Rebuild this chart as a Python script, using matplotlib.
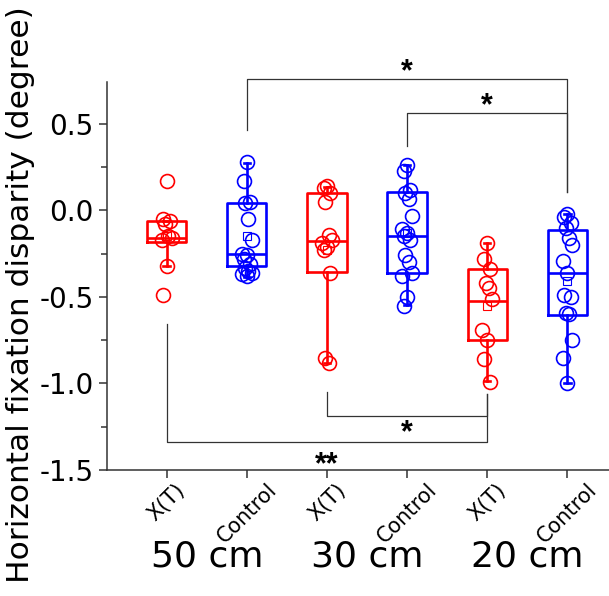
import numpy as np
import matplotlib
matplotlib.use("Agg")
import matplotlib.pyplot as plt
import matplotlib.transforms as mtransforms
from matplotlib.ticker import MultipleLocator

plt.rcParams['font.family'] = ['DejaVu Sans']

# ---- data ----
tick_labels = ["X(T)", "Control", "X(T)", "Control", "X(T)", "Control"]
group_labels = ["50 cm", "30 cm", "20 cm"]
box_colors = ["#ff0000", "#0000ff", "#ff0000", "#0000ff", "#ff0000", "#0000ff"]

pts_xt50 = [0.17, -0.05, -0.06, -0.08, -0.15, -0.16, -0.17, -0.32, -0.49]
pts_ct50 = [0.28, 0.17, 0.05, 0.04, -0.05, -0.17, -0.25, -0.26, -0.28, -0.31,
            -0.33, -0.35, -0.36, -0.37, -0.38]
pts_xt30 = [0.14, 0.13, 0.10, 0.05, -0.14, -0.17, -0.19, -0.21, -0.23, -0.36,
            -0.85, -0.88]
pts_ct30 = [0.26, 0.23, 0.12, 0.10, 0.065, -0.03, -0.11, -0.13, -0.15, -0.17,
            -0.26, -0.30, -0.36, -0.38, -0.50, -0.55]
pts_xt20 = [-0.19, -0.28, -0.34, -0.42, -0.45, -0.51, -0.69, -0.75, -0.86, -0.99]
pts_ct20 = [-0.02, -0.04, -0.07, -0.10, -0.16, -0.20, -0.29, -0.36, -0.49, -0.50,
            -0.59, -0.60, -0.75, -0.85, -1.00]
points = [pts_xt50, pts_ct50, pts_xt30, pts_ct30, pts_xt20, pts_ct20]

whis_hi = [-0.06, 0.276, 0.138, 0.263, -0.188, -0.02]
q3 = [-0.06, 0.043, 0.103, 0.109, -0.34, -0.113]
med = [-0.16, -0.254, -0.175, -0.147, -0.523, -0.363]
q1 = [-0.18, -0.32, -0.357, -0.361, -0.749, -0.604]
whis_lo = [-0.32, -0.383, -0.88, -0.546, -0.984, -0.995]
means = [-0.15, -0.147, -0.228, -0.13, -0.552, -0.41]

# significance brackets: (x1, x2, leg1 bottom, leg2 bottom, bar y, label, label y)
brackets = [
    (2, 6, 0.465, 0.107, 0.760, "*", 0.80),
    (4, 6, 0.375, 0.107, 0.564, "*", 0.60),
    (3, 5, -1.049, -1.06, -1.19, "*", -1.285),
    (1, 5, -0.656, -1.06, -1.336, "**", -1.475),
]

fig = plt.figure(figsize=(6.09, 5.96), dpi=100)
ax = fig.add_axes([0.1757, 0.2114, 0.8243, 0.651])

pos = np.arange(1, 7)
stats = []
for i in range(6):
    stats.append(dict(whislo=whis_lo[i], q1=q1[i], med=med[i], q3=q3[i],
                      whishi=whis_hi[i], mean=means[i], fliers=[]))

for i in range(6):
    c = box_colors[i]
    ax.bxp([stats[i]], positions=[pos[i]], widths=0.49, showmeans=True,
           showfliers=False, capwidths=0.08,
           boxprops=dict(color=c, linewidth=1.9),
           medianprops=dict(color=c, linewidth=1.9),
           whiskerprops=dict(color=c, linewidth=1.9),
           capprops=dict(color=c, linewidth=1.9),
           meanprops=dict(marker='s', markerfacecolor='none', markeredgecolor=c,
                          markersize=6, markeredgewidth=0.8))
    # deterministic small spread so overlapping circles stay visible
    offs = [0.0, -0.04, 0.04, -0.02, 0.02, 0.06, -0.06]
    xs = [pos[i] + offs[k % len(offs)] for k in range(len(points[i]))]
    ax.plot(xs, points[i], 'o', mfc='none', mec=c, ms=10, mew=1.2, zorder=4)

for (a, b, la, lb, ybar, lab, ylab) in brackets:
    ax.plot([a, a, b, b], [la, ybar, ybar, lb], color='#333333', lw=0.9,
            clip_on=False, zorder=1)
    ax.text((a + b) / 2, ylab, lab, ha='center', va='center', fontsize=22,
            fontweight='bold', family='Liberation Sans', clip_on=False)

ax.set_xlim(0.255, 6.52)
ax.set_ylim(-1.5, 0.742)
ax.set_xticks(pos)
ax.set_xticklabels(tick_labels, rotation=45, ha='center', fontsize=15)
ax.yaxis.set_major_locator(MultipleLocator(0.5))
ax.yaxis.set_minor_locator(MultipleLocator(0.25))
ax.set_yticks([-1.5, -1.0, -0.5, 0.0, 0.5])
ax.set_yticklabels(["-1.5", "-1.0", "-0.5", "0.0", "0.5"], fontsize=20)
ax.tick_params(axis='both', which='major', direction='out', length=6, width=1.1,
               color='#333333')
ax.tick_params(axis='x', pad=1)
ax.tick_params(axis='y', which='minor', direction='out', length=4, width=1.1,
               color='#333333')
ax.spines['top'].set_visible(False)
ax.spines['right'].set_visible(False)
for s in ['left', 'bottom']:
    ax.spines[s].set_linewidth(1.1)
    ax.spines[s].set_color('#333333')

ax.set_ylabel("Horizontal fixation disparity (degree)", fontsize=22.5)
ax.yaxis.set_label_coords(-0.143, 0.451)

trans = mtransforms.blended_transform_factory(ax.transData, fig.transFigure)
for k, g in enumerate(group_labels):
    ax.text(1.5 + 2 * k, 0.066, g, transform=trans, ha='center', va='center',
            fontsize=26)

fig.savefig("out.png", dpi=100)
